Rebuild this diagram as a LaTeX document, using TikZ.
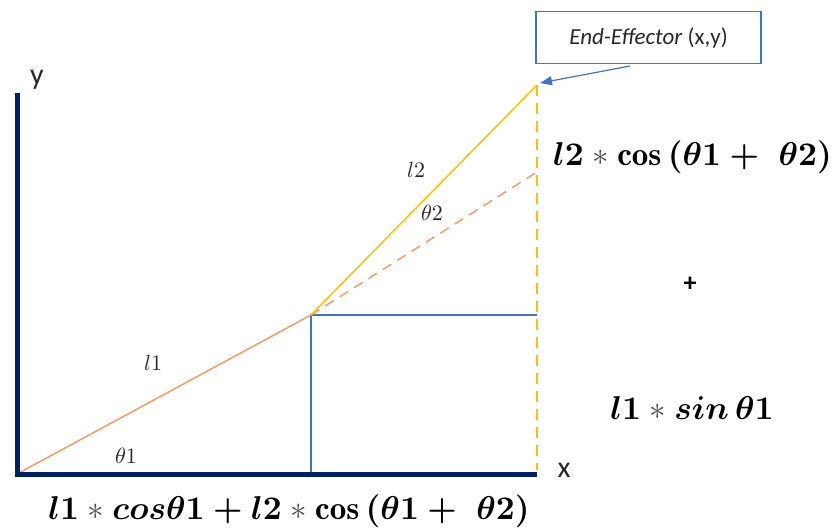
\documentclass[tikz,border=0pt]{standalone}
\usepackage{graphicx}
\usepackage{fontspec}
\newfontfamily\calib{Carlito}
\usetikzlibrary{arrows.meta}
\definecolor{navy}{RGB}{0,32,96}
\definecolor{linkor}{RGB}{244,156,100}
\definecolor{linkyl}{RGB}{255,192,0}
\definecolor{bblue}{RGB}{68,114,196}
\definecolor{txtgray}{RGB}{40,40,40}
\newcommand{\lblm}[1]{\scalebox{2.2}{$#1$}}
\newcommand{\fmla}[1]{\scalebox{3.3}{\boldmath$#1$}}
\newcommand{\myast}{\mathbin{\mbox{\color{black!70}\unboldmath$\ast$}}}
\tikzset{
  axis/.style={navy,line width=5pt},
  proj/.style={bblue,line width=1.2pt},
  lbl/.style={inner sep=0pt,text=txtgray},
  formula/.style={inner sep=0pt},
  axlbl/.style={font=\calib\fontsize{30}{34}\selectfont,inner sep=0pt,text=txtgray}
}
\begin{document}
\begin{tikzpicture}[x=1pt,y=-1pt]
\useasboundingbox (0,0) rectangle (838,531);
\coordinate (O) at (17,474);
\coordinate (J) at (311,315);
\coordinate (E) at (537,85);
\coordinate (D) at (537,172);
\coordinate (F) at (537,470);
\coordinate (R) at (537,315);
\coordinate (Jb) at (311,474);
\coordinate (Yt) at (17,93);
\coordinate (Xe) at (537,474);
% projections
\draw[proj] (Jb) -- (J) -- (R);
% links
\draw[linkor,line width=1.5pt] (O) -- (J);
\draw[linkor,line width=1.5pt,dash pattern=on 10pt off 7pt] (J) -- (D);
\draw[linkyl,line width=1.5pt] (J) -- (E);
\draw[linkyl,line width=1.5pt,dash pattern=on 11pt off 7pt] (E) -- (F);
% axes
\draw[axis] (Yt) -- (17,476);
\draw[axis] (15,474) -- (Xe);
% axis labels
\node[axlbl] (ylab) at (37,80) {y};
\node[axlbl] (xlab) at (564,470) {x};
% link labels
\node[lbl] (l1) at (153,363) {\lblm{l1}};
\node[lbl] (t1) at (126,456) {\lblm{\theta1}};
\node[lbl] (l2) at (416,170) {\lblm{l2}};
\node[lbl] (t2) at (432,213) {\lblm{\theta2}};
% end effector box
\node[draw=bblue,line width=1.2pt,minimum width=225pt,minimum height=52pt,inner sep=0pt,text=txtgray,
  font=\calib\fontsize{23}{27}\selectfont] (ee) at (648.5,37.5) {\textit{End-Effector} (x,y)};
\coordinate (arrs) at (630,66);
\draw[bblue,line width=1.2pt,-{Triangle[length=12pt,width=9pt]}] (arrs) -- (540,83);
% formulas
\node[formula,anchor=west] (f1) at (553,157) {\fmla{l2\myast\cos\,(\theta1+\ \theta2)}};
\node[inner sep=0pt,font=\calib\bfseries\fontsize{26}{30}\selectfont] (plus) at (690,284) {+};
\node[formula] (f2) at (692,408) {\fmla{l1\myast sin\,\theta1}};
\node[formula] (f3) at (289,511) {\fmla{l1\myast cos\theta1+l2\myast\cos\,(\theta1+\ \theta2)}};
\end{tikzpicture}
\end{document}
